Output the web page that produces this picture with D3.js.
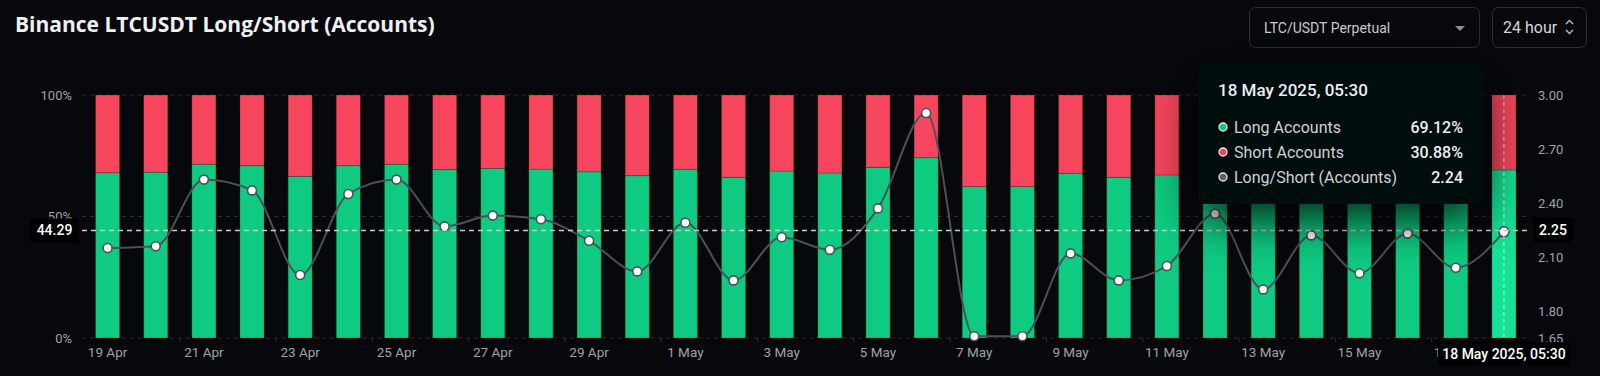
<!DOCTYPE html>
<html>
<head>
<meta charset="utf-8">
<script src="https://cdn.jsdelivr.net/npm/d3@7"></script>
<style>
  html, body { margin: 0; padding: 0; background: #06080c; }
  svg { display: block; }
</style>
</head>
<body>
<div id="chart"></div>
<script>
const width = 1600;
const height = 376;

// data
const dates = ["19 Apr","20 Apr","21 Apr","22 Apr","23 Apr","24 Apr","25 Apr","26 Apr","27 Apr","28 Apr",
  "29 Apr","30 Apr","1 May","2 May","3 May","4 May","5 May","6 May","7 May","8 May",
  "9 May","10 May","11 May","12 May","13 May","14 May","15 May","16 May","17 May","18 May"];
const longPct = [68.0, 68.2, 71.5, 70.9, 66.5, 70.9, 71.5, 69.3, 69.8, 69.5,
  68.4, 66.8, 69.4, 66.1, 68.7, 67.9, 70.2, 74.2, 62.3, 62.3,
  67.8, 66.1, 67.1, 70.0, 65.7, 69.0, 66.8, 69.0, 67.1, 69.12];
const ratio = [2.15, 2.16, 2.53, 2.47, 2.00, 2.45, 2.53, 2.27, 2.33, 2.31,
  2.19, 2.02, 2.29, 1.97, 2.21, 2.14, 2.37, 2.90, 1.66, 1.66,
  2.12, 1.97, 2.05, 2.34, 1.92, 2.22, 2.01, 2.23, 2.04, 2.24];
const leftTicks = [0, 50, 100];
const rightTicks = [1.65, 1.80, 2.10, 2.40, 2.70, 3.00];
const hoverIndex = 29;
const crossLeft = 44.29;
const crossRight = 2.25;
const tipDate = "18 May 2025, 05:30";
const tipRows = [
  {name: "Long Accounts", value: "69.12%", color: "#0ecb81"},
  {name: "Short Accounts", value: "30.88%", color: "#f6465d"},
  {name: "Long/Short (Accounts)", value: "2.24", color: "#5b616b"}
];

const green = "#0ecb81";
const red = "#f6465d";
const font = "Roboto, 'Noto Sans', sans-serif";

const svg = d3.select("#chart").append("svg")
  .attr("width", width)
  .attr("height", height)
  .style("background", "#06080c");

const defs = svg.append("defs");
defs.append("filter")
  .attr("id", "shadow")
  .attr("x", "-40%").attr("y", "-40%")
  .attr("width", "180%").attr("height", "240%")
  .append("feDropShadow")
  .attr("dx", 0).attr("dy", 14)
  .attr("stdDeviation", 24)
  .attr("flood-color", "#000")
  .attr("flood-opacity", 0.85);

const x = d3.scaleBand()
  .domain(dates)
  .range([83.5, 1528])
  .paddingInner(0.5)
  .paddingOuter(0.25);

const yL = d3.scaleLinear().domain([0, 100]).range([338, 95]);
const yR = d3.scaleLinear().domain([1.65, 3.00]).range([338, 95]);

// title
svg.append("text")
  .attr("x", 15).attr("y", 32)
  .attr("fill", "#eef0f2")
  .attr("font-family", "'Open Sans', sans-serif")
  .attr("font-weight", 700)
  .attr("font-size", 21)
  .text("Binance LTCUSDT Long/Short (Accounts)");

// controls
svg.append("rect")
  .attr("x", 1249.5).attr("y", 7.5).attr("width", 230).attr("height", 40)
  .attr("rx", 6).attr("fill", "none").attr("stroke", "#2a2e35");
svg.append("text")
  .attr("x", 1264).attr("y", 33)
  .attr("fill", "#c9ccd1").attr("font-family", font).attr("font-size", 14)
  .text("LTC/USDT Perpetual");
svg.append("path")
  .attr("d", "M1455,26 L1465,26 L1460,31 Z")
  .attr("fill", "#8c9098");

svg.append("rect")
  .attr("x", 1492.5).attr("y", 7.5).attr("width", 94).attr("height", 40)
  .attr("rx", 6).attr("fill", "none").attr("stroke", "#2a2e35");
svg.append("text")
  .attr("x", 1503).attr("y", 33)
  .attr("fill", "#d4d7db").attr("font-family", font).attr("font-size", 16)
  .text("24 hour");
svg.append("path")
  .attr("d", "M1566,24 L1569.5,20.5 L1573,24 M1566,30 L1569.5,33.5 L1573,30")
  .attr("fill", "none").attr("stroke", "#b9bcc2").attr("stroke-width", 1.4);

// grid
svg.selectAll(".grid")
  .data(leftTicks)
  .enter()
  .append("line")
  .attr("class", "grid")
  .attr("x1", 82).attr("x2", 1530)
  .attr("y1", d => yL(d)).attr("y2", d => yL(d))
  .attr("stroke", "#2a2d33")
  .attr("stroke-dasharray", "4,4");

// small ticks at bottom
svg.selectAll(".xtick")
  .data(dates.filter((d, i) => i % 2 === 0 && i > 0))
  .enter()
  .append("line")
  .attr("x1", d => x(d) - x.step() * 0.25)
  .attr("x2", d => x(d) - x.step() * 0.25)
  .attr("y1", 338).attr("y2", 342)
  .attr("stroke", "#2a2d33");

// bars
const bars = svg.append("g");
bars.selectAll(".long")
  .data(dates)
  .enter()
  .append("rect")
  .attr("x", d => x(d))
  .attr("width", x.bandwidth())
  .attr("y", (d, i) => yL(longPct[i]))
  .attr("height", (d, i) => yL(0) - yL(longPct[i]))
  .attr("fill", (d, i) => i === hoverIndex ? "#14e294" : green)
  .attr("stroke", "rgba(0,0,0,0.18)")
  .attr("stroke-width", 1);

bars.selectAll(".short")
  .data(dates)
  .enter()
  .append("rect")
  .attr("x", d => x(d))
  .attr("width", x.bandwidth())
  .attr("y", yL(100))
  .attr("height", (d, i) => yL(longPct[i]) - yL(100))
  .attr("fill", red)
  .attr("stroke", "rgba(0,0,0,0.18)")
  .attr("stroke-width", 1);

// ratio line
const line = d3.line()
  .x((d, i) => x(dates[i]) + x.bandwidth() / 2)
  .y(d => yR(d))
  .curve(d3.curveMonotoneX);

svg.append("path")
  .datum(ratio)
  .attr("d", line)
  .attr("fill", "none")
  .attr("stroke", "#4b5059")
  .attr("stroke-width", 2);

svg.selectAll(".pt")
  .data(ratio)
  .enter()
  .append("circle")
  .attr("cx", (d, i) => x(dates[i]) + x.bandwidth() / 2)
  .attr("cy", d => yR(d))
  .attr("r", (d, i) => i === hoverIndex ? 5 : 4.5)
  .attr("fill", "#ffffff")
  .attr("stroke", "#4b5059")
  .attr("stroke-width", 1.6);

// crosshair
const cx = x(dates[hoverIndex]) + x.bandwidth() / 2;
svg.append("line")
  .attr("x1", 82).attr("x2", 1530)
  .attr("y1", yL(crossLeft)).attr("y2", yL(crossLeft))
  .attr("stroke", "#c9ccd0").attr("stroke-width", 1.5)
  .attr("stroke-dasharray", "5,4");
svg.append("line")
  .attr("x1", cx).attr("x2", cx)
  .attr("y1", 95).attr("y2", 338)
  .attr("stroke", "rgba(255,255,255,0.75)").attr("stroke-width", 1)
  .attr("stroke-dasharray", "4,3");

// tooltip
const tip = svg.append("g");
tip.append("rect")
  .attr("x", 1198).attr("y", 64)
  .attr("width", 286).attr("height", 140)
  .attr("rx", 4)
  .attr("fill", "#06080c")
  .attr("filter", "url(#shadow)");
tip.append("text")
  .attr("x", 1218).attr("y", 96)
  .attr("fill", "#eceef0").attr("font-family", font)
  .attr("font-weight", 500).attr("font-size", 17)
  .text(tipDate);
const rows = tip.selectAll(".row")
  .data(tipRows)
  .enter()
  .append("g")
  .attr("transform", (d, i) => `translate(0, ${127 + i * 25})`);
rows.append("circle")
  .attr("cx", 1223).attr("cy", 0).attr("r", 4)
  .attr("fill", d => d.color)
  .attr("stroke", "#e8eaec").attr("stroke-width", 1.3);
rows.append("text")
  .attr("x", 1234).attr("y", 5.5)
  .attr("fill", "#cfd2d6").attr("font-family", font).attr("font-size", 16)
  .text(d => d.name);
rows.append("text")
  .attr("x", 1463).attr("y", 5.5)
  .attr("text-anchor", "end")
  .attr("fill", "#eceef0").attr("font-family", font)
  .attr("font-weight", 500).attr("font-size", 16)
  .text(d => d.value);

// left axis labels
svg.selectAll(".ly")
  .data(leftTicks)
  .enter()
  .append("text")
  .attr("x", 72).attr("y", d => yL(d) + 4.5)
  .attr("text-anchor", "end")
  .attr("fill", "#9ea2a9").attr("font-family", font).attr("font-size", 13)
  .text(d => d + "%");

// right axis labels
svg.selectAll(".ry")
  .data(rightTicks)
  .enter()
  .append("text")
  .attr("x", 1538).attr("y", d => yR(d) + 4.5)
  .attr("fill", "#9ea2a9").attr("font-family", font).attr("font-size", 13)
  .text(d => d.toFixed(2));

// bottom labels
svg.selectAll(".xl")
  .data(dates.filter((d, i) => i % 2 === 0))
  .enter()
  .append("text")
  .attr("x", d => x(d) + x.bandwidth() / 2)
  .attr("y", 357)
  .attr("text-anchor", "middle")
  .attr("fill", "#9ea2a9").attr("font-family", font).attr("font-size", 13.5)
  .text(d => d);

// crosshair value boxes
function valueBox(bx, by, w, h, label) {
  svg.append("rect")
    .attr("x", bx).attr("y", by).attr("width", w).attr("height", h)
    .attr("rx", 2).attr("fill", "#000");
  svg.append("text")
    .attr("x", bx + w / 2).attr("y", by + h / 2 + 5)
    .attr("text-anchor", "middle")
    .attr("fill", "#ffffff").attr("font-family", font)
    .attr("font-weight", 500).attr("font-size", 14)
    .text(label);
}
valueBox(30, yL(crossLeft) - 12, 49, 24, crossLeft.toFixed(2));
valueBox(1533, yR(crossRight) - 12, 40, 24, crossRight.toFixed(2));
valueBox(cx - 66, 342, 132, 24, tipDate);
</script>
</body>
</html>
